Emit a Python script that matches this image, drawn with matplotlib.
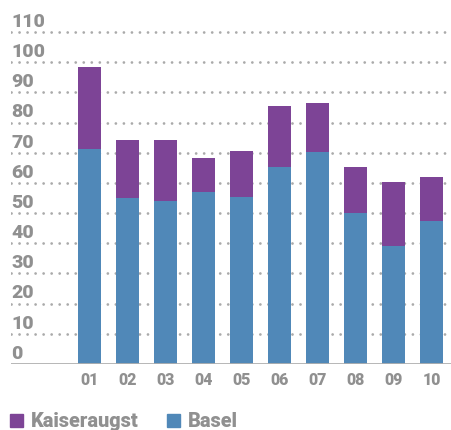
import matplotlib
matplotlib.use("Agg")
import matplotlib.pyplot as plt
from matplotlib.patches import Patch

# data
years = ["01", "02", "03", "04", "05", "06", "07", "08", "09", "10"]
basel = [71.2, 55.1, 54.0, 57.0, 55.3, 65.2, 70.2, 50.0, 39.1, 47.4]
totals = [98.3, 74.2, 74.2, 68.2, 70.5, 85.4, 86.4, 65.2, 60.3, 61.9]
kaiseraugst = [t - b for t, b in zip(totals, basel)]
y_ticks = list(range(0, 111, 10))

PURPLE = "#7d4496"
BLUE = "#5088b8"
GREY = "#909090"

plt.rcParams["font.family"] = ["Roboto", "DejaVu Sans"]

fig = plt.figure(figsize=(4.51, 4.30), dpi=100)
ax = fig.add_axes([11 / 451, 66 / 430, 440 / 451, 347 / 430])

x = list(range(len(years)))
ax.bar(x, basel, width=0.6, color=BLUE, zorder=3)
ax.bar(x, kaiseraugst, bottom=basel, width=0.6, color=PURPLE, zorder=3)

# dotted grid lines and labels sitting above them
for v in y_ticks:
    if v > 0:
        ax.axhline(v, color="#aaaaaa", lw=2.0, dashes=(0.01, 2.88),
                   dash_capstyle="round", zorder=1)
    ax.annotate(str(v), xy=(0, v), xycoords=("axes fraction", "data"),
                xytext=(0, 3.8), textcoords="offset points",
                ha="left", va="baseline", fontsize=14, fontweight="black",
                color=GREY)
ax.axhline(0, color="#b0b0b0", lw=2, zorder=4)

ax.set_xlim(-2.07, 9.51)
ax.set_ylim(0, 115)
ax.set_xticks(x)
ax.set_xticklabels(years, fontsize=11.5, fontweight="black", color=GREY)
ax.tick_params(axis="x", length=0, pad=6)
ax.set_yticks([])
for s in ax.spines.values():
    s.set_visible(False)

handles = [Patch(color=PURPLE, label="Kaiseraugst"),
           Patch(color=BLUE, label="Basel")]
leg = fig.legend(handles=handles, loc="lower left", bbox_to_anchor=(-0.018, -0.045),
                 ncol=2, frameon=False, handlelength=0.65, handleheight=0.65,
                 handletextpad=0.4, columnspacing=1.45,
                 prop={"family": "Roboto", "weight": "black", "size": 14.3})
for t in leg.get_texts():
    t.set_color(GREY)

fig.savefig("out.png", dpi=100)
